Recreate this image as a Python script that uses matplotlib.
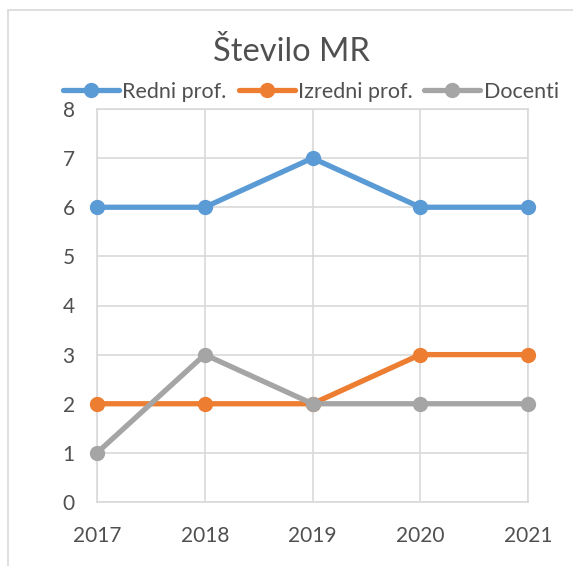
import matplotlib
matplotlib.use("Agg")
import matplotlib.pyplot as plt
from matplotlib.patches import Rectangle

years = [2017, 2018, 2019, 2020, 2021]
redni = [6, 6, 7, 6, 6]
izredni = [2, 2, 2, 3, 3]
docenti = [1, 3, 2, 2, 2]
series_names = ["Redni prof.", "Izredni prof.", "Docenti"]
colors = ["#5B9BD5", "#ED7D31", "#A5A5A5"]
title = "Število MR"

W, H = 573, 566
fig = plt.figure(figsize=(W / 100, H / 100), dpi=100)
plt.rcParams['font.family'] = ['Lato', 'DejaVu Sans']
txt = "#505050"

fig.patches.append(Rectangle((8 / W, 1 - 700 / H), 700 / W, 690 / H, transform=fig.transFigure,
                             fill=False, edgecolor="#D9D9D9", linewidth=1.2, clip_on=False))

L, R, T, B = 97, 528, 109, 502
ax = fig.add_axes([L / W, 1 - B / H, (R - L) / W, (B - T) / H])

for vals, name, c in zip([redni, izredni, docenti], series_names, colors):
    ax.plot(years, vals, color=c, lw=3.8, marker='o', ms=10, label=name, solid_capstyle='round',
            zorder=3, clip_on=False)

ax.set_xlim(years[0], years[-1])
ax.set_ylim(0, 8)
ax.set_xticks(years)
ax.set_yticks(range(0, 9))
ax.grid(True, color="#D9D9D9", lw=1.2)
for s in ax.spines.values():
    s.set_color("#D9D9D9")
    s.set_linewidth(1.2)
ax.tick_params(length=0, labelsize=15, labelcolor=txt)
ax.tick_params(axis='y', pad=16)
ax.tick_params(axis='x', pad=17)

fig.text(291 / W, 1 - 52 / H, title, ha='center', va='center', fontsize=23.5, color=txt)

fig.legend(loc='center', bbox_to_anchor=(311 / W, 1 - 92 / H), ncol=3, frameon=False,
           fontsize=15.5, labelcolor=txt, handlelength=2.6, handletextpad=0.15,
           columnspacing=0.55, borderpad=0, borderaxespad=0)

fig.savefig("out.png", dpi=100)
